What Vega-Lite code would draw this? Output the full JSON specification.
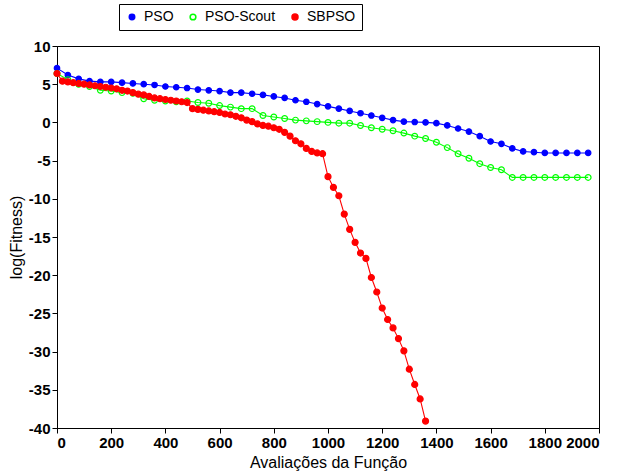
{
  "width": 622,
  "height": 473,
  "autosize": {"type": "fit", "contains": "padding"},
  "padding": {"left": 8, "top": 39, "right": 22, "bottom": 3},
  "config": {"view": {"stroke": "black"}},
  "data": {"values": [
    {"s":"PSO","x":0,"y":7.1},{"s":"PSO","x":40,"y":6.2},{"s":"PSO","x":80,"y":5.7},{"s":"PSO","x":120,"y":5.4},{"s":"PSO","x":160,"y":5.3},{"s":"PSO","x":200,"y":5.3},{"s":"PSO","x":240,"y":5.2},{"s":"PSO","x":280,"y":5.1},{"s":"PSO","x":320,"y":5.0},{"s":"PSO","x":360,"y":4.9},{"s":"PSO","x":400,"y":4.7},{"s":"PSO","x":440,"y":4.6},{"s":"PSO","x":480,"y":4.5},{"s":"PSO","x":520,"y":4.3},{"s":"PSO","x":560,"y":4.2},{"s":"PSO","x":600,"y":4.1},{"s":"PSO","x":640,"y":3.9},{"s":"PSO","x":680,"y":3.9},{"s":"PSO","x":720,"y":3.75},{"s":"PSO","x":760,"y":3.6},{"s":"PSO","x":800,"y":3.4},{"s":"PSO","x":840,"y":3.2},{"s":"PSO","x":880,"y":2.9},{"s":"PSO","x":920,"y":2.7},{"s":"PSO","x":960,"y":2.4},{"s":"PSO","x":1000,"y":2.1},{"s":"PSO","x":1040,"y":1.8},{"s":"PSO","x":1080,"y":1.5},{"s":"PSO","x":1120,"y":1.2},{"s":"PSO","x":1160,"y":0.9},{"s":"PSO","x":1200,"y":0.6},{"s":"PSO","x":1240,"y":0.3},{"s":"PSO","x":1280,"y":0.1},{"s":"PSO","x":1320,"y":0.05},{"s":"PSO","x":1360,"y":0.0},{"s":"PSO","x":1400,"y":-0.1},{"s":"PSO","x":1440,"y":-0.4},{"s":"PSO","x":1480,"y":-0.8},{"s":"PSO","x":1520,"y":-1.2},{"s":"PSO","x":1560,"y":-1.8},{"s":"PSO","x":1600,"y":-2.5},{"s":"PSO","x":1640,"y":-2.8},{"s":"PSO","x":1680,"y":-3.4},{"s":"PSO","x":1720,"y":-3.8},{"s":"PSO","x":1760,"y":-3.9},{"s":"PSO","x":1800,"y":-4.0},{"s":"PSO","x":1840,"y":-4.0},{"s":"PSO","x":1880,"y":-4.0},{"s":"PSO","x":1920,"y":-4.0},{"s":"PSO","x":1960,"y":-4.0},
    {"s":"PSO-Scout","x":0,"y":6.4},{"s":"PSO-Scout","x":40,"y":5.6},{"s":"PSO-Scout","x":80,"y":5.0},{"s":"PSO-Scout","x":120,"y":4.7},{"s":"PSO-Scout","x":160,"y":4.2},{"s":"PSO-Scout","x":200,"y":4.1},{"s":"PSO-Scout","x":240,"y":3.9},{"s":"PSO-Scout","x":280,"y":3.8},{"s":"PSO-Scout","x":320,"y":3.1},{"s":"PSO-Scout","x":360,"y":2.9},{"s":"PSO-Scout","x":400,"y":2.8},{"s":"PSO-Scout","x":440,"y":2.7},{"s":"PSO-Scout","x":480,"y":2.8},{"s":"PSO-Scout","x":520,"y":2.6},{"s":"PSO-Scout","x":560,"y":2.5},{"s":"PSO-Scout","x":600,"y":2.2},{"s":"PSO-Scout","x":640,"y":2.0},{"s":"PSO-Scout","x":680,"y":1.8},{"s":"PSO-Scout","x":720,"y":1.8},{"s":"PSO-Scout","x":760,"y":0.9},{"s":"PSO-Scout","x":800,"y":0.7},{"s":"PSO-Scout","x":840,"y":0.5},{"s":"PSO-Scout","x":880,"y":0.3},{"s":"PSO-Scout","x":920,"y":0.2},{"s":"PSO-Scout","x":960,"y":0.1},{"s":"PSO-Scout","x":1000,"y":0.0},{"s":"PSO-Scout","x":1040,"y":-0.1},{"s":"PSO-Scout","x":1080,"y":-0.1},{"s":"PSO-Scout","x":1120,"y":-0.4},{"s":"PSO-Scout","x":1160,"y":-0.7},{"s":"PSO-Scout","x":1200,"y":-0.9},{"s":"PSO-Scout","x":1240,"y":-1.1},{"s":"PSO-Scout","x":1280,"y":-1.4},{"s":"PSO-Scout","x":1320,"y":-1.8},{"s":"PSO-Scout","x":1360,"y":-2.1},{"s":"PSO-Scout","x":1400,"y":-2.6},{"s":"PSO-Scout","x":1440,"y":-3.3},{"s":"PSO-Scout","x":1480,"y":-4.1},{"s":"PSO-Scout","x":1520,"y":-4.7},{"s":"PSO-Scout","x":1560,"y":-5.4},{"s":"PSO-Scout","x":1600,"y":-5.9},{"s":"PSO-Scout","x":1640,"y":-6.2},{"s":"PSO-Scout","x":1680,"y":-7.2},{"s":"PSO-Scout","x":1720,"y":-7.2},{"s":"PSO-Scout","x":1760,"y":-7.2},{"s":"PSO-Scout","x":1800,"y":-7.2},{"s":"PSO-Scout","x":1840,"y":-7.2},{"s":"PSO-Scout","x":1880,"y":-7.2},{"s":"PSO-Scout","x":1920,"y":-7.2},{"s":"PSO-Scout","x":1960,"y":-7.2},
    {"s":"SBPSO","x":0,"y":6.4},{"s":"SBPSO","x":20,"y":5.4},{"s":"SBPSO","x":40,"y":5.3},{"s":"SBPSO","x":60,"y":5.2},{"s":"SBPSO","x":80,"y":5.1},{"s":"SBPSO","x":100,"y":5.0},{"s":"SBPSO","x":120,"y":4.9},{"s":"SBPSO","x":140,"y":4.8},{"s":"SBPSO","x":160,"y":4.7},{"s":"SBPSO","x":180,"y":4.6},{"s":"SBPSO","x":200,"y":4.5},{"s":"SBPSO","x":220,"y":4.4},{"s":"SBPSO","x":240,"y":4.2},{"s":"SBPSO","x":260,"y":4.1},{"s":"SBPSO","x":280,"y":3.9},{"s":"SBPSO","x":300,"y":3.7},{"s":"SBPSO","x":320,"y":3.6},{"s":"SBPSO","x":340,"y":3.4},{"s":"SBPSO","x":360,"y":3.2},{"s":"SBPSO","x":380,"y":3.1},{"s":"SBPSO","x":400,"y":3.0},{"s":"SBPSO","x":420,"y":2.9},{"s":"SBPSO","x":440,"y":2.8},{"s":"SBPSO","x":460,"y":2.7},{"s":"SBPSO","x":480,"y":2.6},{"s":"SBPSO","x":500,"y":1.8},{"s":"SBPSO","x":520,"y":1.7},{"s":"SBPSO","x":540,"y":1.6},{"s":"SBPSO","x":560,"y":1.5},{"s":"SBPSO","x":580,"y":1.4},{"s":"SBPSO","x":600,"y":1.3},{"s":"SBPSO","x":620,"y":1.1},{"s":"SBPSO","x":640,"y":1.0},{"s":"SBPSO","x":660,"y":0.8},{"s":"SBPSO","x":680,"y":0.6},{"s":"SBPSO","x":700,"y":0.3},{"s":"SBPSO","x":720,"y":0.1},{"s":"SBPSO","x":740,"y":-0.2},{"s":"SBPSO","x":760,"y":-0.4},{"s":"SBPSO","x":780,"y":-0.5},{"s":"SBPSO","x":800,"y":-0.7},{"s":"SBPSO","x":820,"y":-0.9},{"s":"SBPSO","x":840,"y":-1.3},{"s":"SBPSO","x":860,"y":-1.8},{"s":"SBPSO","x":880,"y":-2.4},{"s":"SBPSO","x":900,"y":-2.8},{"s":"SBPSO","x":920,"y":-3.4},{"s":"SBPSO","x":940,"y":-3.8},{"s":"SBPSO","x":960,"y":-4.0},{"s":"SBPSO","x":980,"y":-4.1},{"s":"SBPSO","x":1000,"y":-7.1},{"s":"SBPSO","x":1020,"y":-8.5},{"s":"SBPSO","x":1040,"y":-9.6},{"s":"SBPSO","x":1060,"y":-12.0},{"s":"SBPSO","x":1080,"y":-14.0},{"s":"SBPSO","x":1100,"y":-15.7},{"s":"SBPSO","x":1120,"y":-17.1},{"s":"SBPSO","x":1140,"y":-17.8},{"s":"SBPSO","x":1160,"y":-20.3},{"s":"SBPSO","x":1180,"y":-22.2},{"s":"SBPSO","x":1200,"y":-24.3},{"s":"SBPSO","x":1220,"y":-25.8},{"s":"SBPSO","x":1240,"y":-26.9},{"s":"SBPSO","x":1260,"y":-28.3},{"s":"SBPSO","x":1280,"y":-29.9},{"s":"SBPSO","x":1300,"y":-32.3},{"s":"SBPSO","x":1320,"y":-34.3},{"s":"SBPSO","x":1340,"y":-36.2},{"s":"SBPSO","x":1360,"y":-39.1}
  ]},
  "encoding": {
    "x": {"field": "x", "type": "quantitative", "scale": {"domain": [0, 2000], "nice": false, "zero": false},
      "axis": {"values": [0,200,400,600,800,1000,1200,1400,1600,1800,2000], "format": "d", "title": "Avaliações da Função", "titleFont": "Liberation Sans", "titleFontSize": 16, "titleFontWeight": "normal", "titleColor": "black", "labelFont": "Liberation Sans", "labelFontSize": 15, "labelFontWeight": "bold", "labelColor": "black", "tickColor": "black", "domainColor": "black", "grid": false}},
    "y": {"field": "y", "type": "quantitative", "scale": {"domain": [-40, 10], "nice": false, "zero": false},
      "axis": {"values": [-40,-35,-30,-25,-20,-15,-10,-5,0,5,10], "labelExpr": "datum.value + ''", "title": "log(Fitness)", "titleFont": "Liberation Sans", "titleFontSize": 16, "titleFontWeight": "normal", "titleColor": "black", "labelFont": "Liberation Sans", "labelFontSize": 15, "labelFontWeight": "bold", "labelColor": "black", "tickColor": "black", "domainColor": "black", "grid": false}},
    "color": {"field": "s", "type": "nominal",
      "scale": {"domain": ["PSO", "PSO-Scout", "SBPSO"], "range": ["#0000ff", "#00ff00", "#ff0000"]},
      "legend": {"orient": "none", "legendX": 62, "legendY": -42, "direction": "horizontal", "title": null,
        "labelFontSize": 14, "labelFont": "Liberation Sans", "labelColor": "black", "labelOffset": 5,
        "strokeColor": "black", "fillColor": "white", "padding": 6, "columnPadding": 12}}
  },
  "layer": [
    {"mark": {"type": "line", "strokeWidth": 1.1}},
    {"mark": {"type": "point", "filled": false, "strokeWidth": 1.2, "opacity": 1},
     "encoding": {
       "fill": {"field": "s", "type": "nominal", "scale": {"domain": ["PSO", "PSO-Scout", "SBPSO"], "range": ["#0000ff", "transparent", "#ff0000"]}, "legend": null},
       "size": {"field": "s", "type": "nominal", "scale": {"domain": ["PSO", "PSO-Scout", "SBPSO"], "range": [30, 36, 18]}, "legend": null}
     }}
  ]
}
